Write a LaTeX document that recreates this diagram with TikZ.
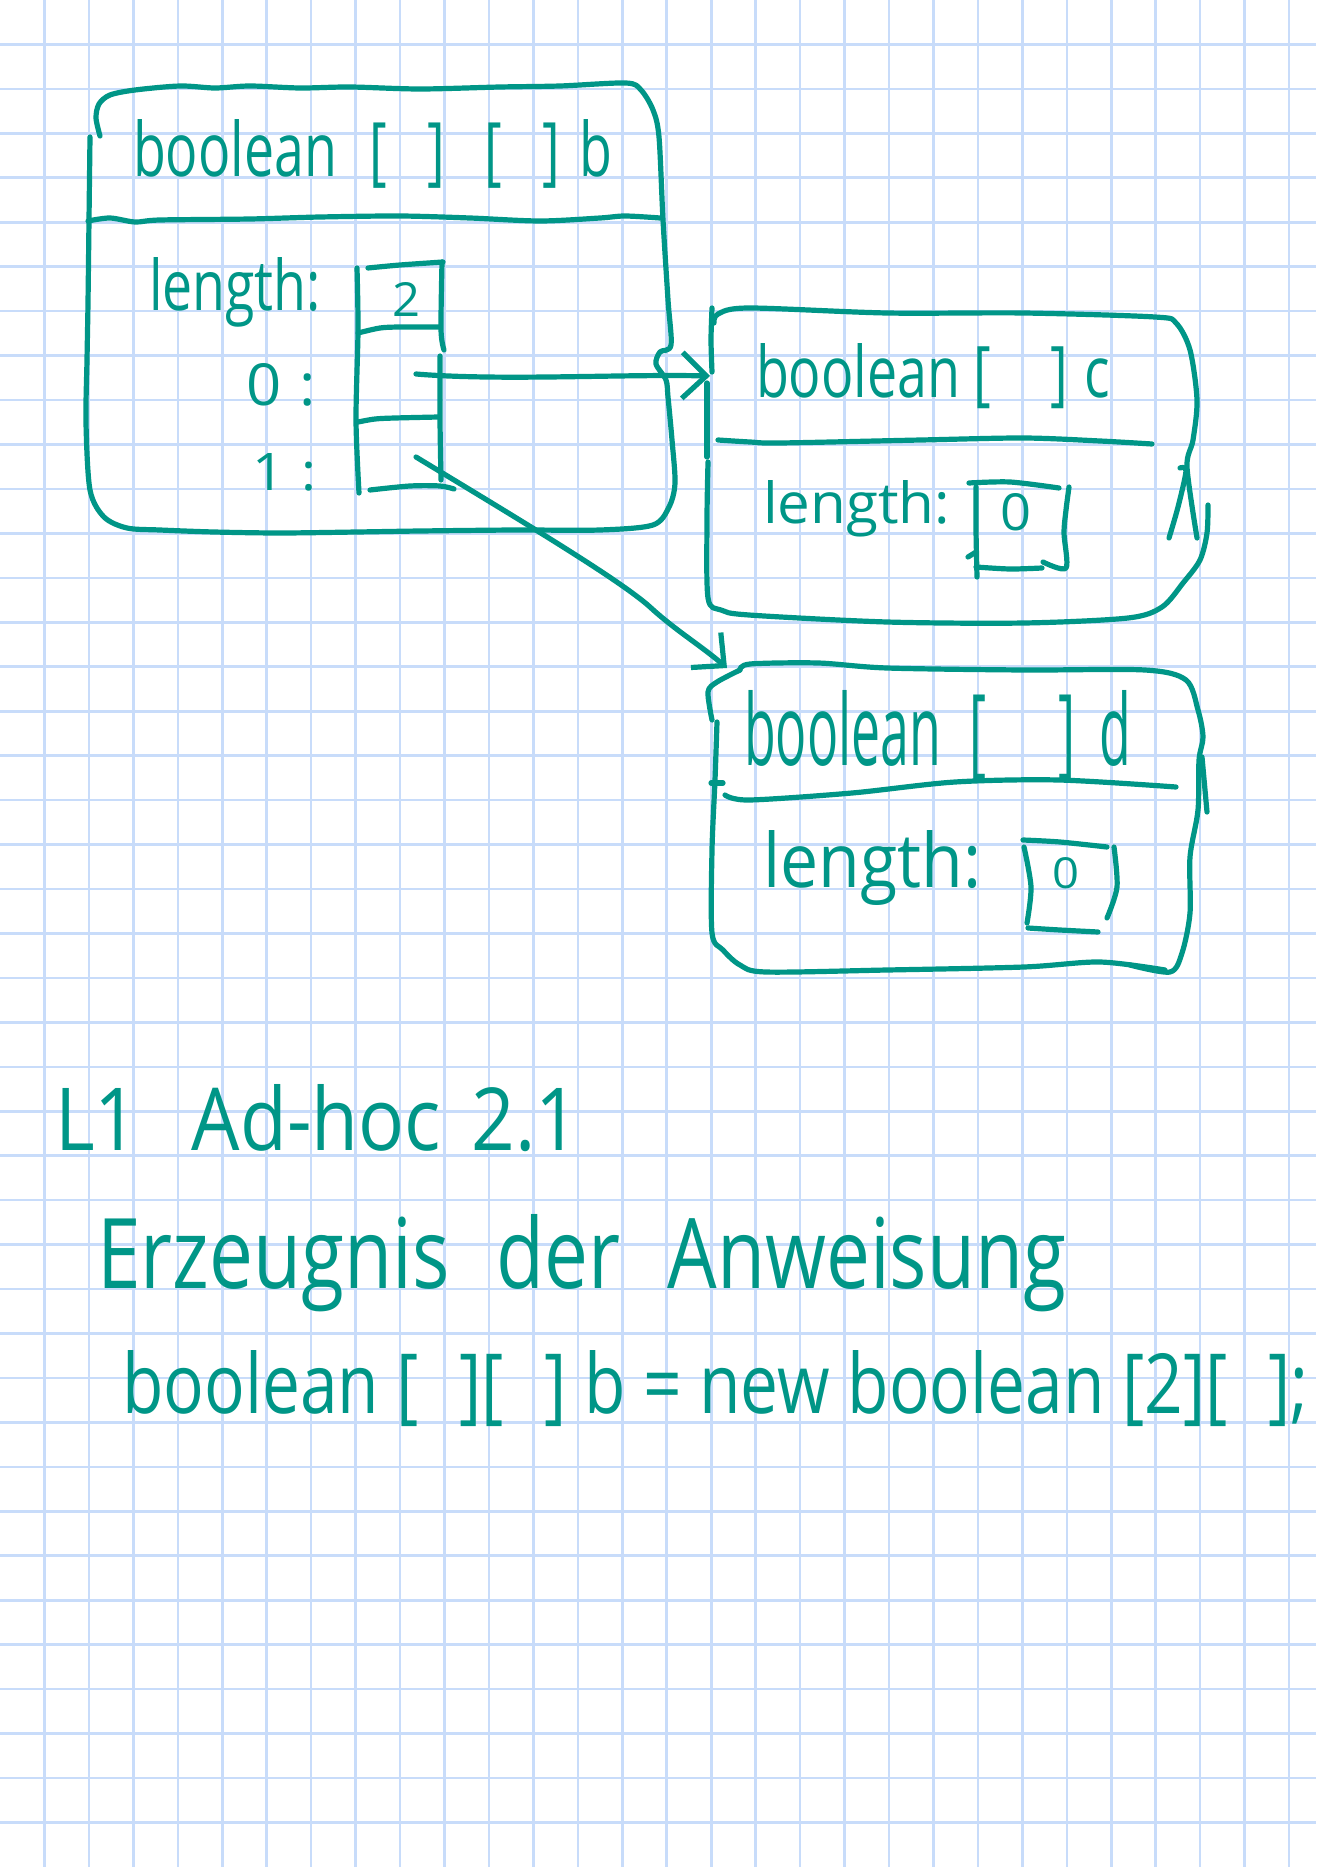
\documentclass[tikz,border=0pt]{standalone}
\usepackage{fontspec}
\setmainfont{Open Sans}
\usetikzlibrary{arrows.meta}
\definecolor{ink}{RGB}{0,150,135}
\definecolor{gridblue}{RGB}{200,220,250}
\newcommand{\hw}[3]{\resizebox{#1pt}{#2pt}{#3}}
\begin{document}
\begin{tikzpicture}[x=1pt,y=-1pt,
  pen/.style={draw=ink, line width=5.2pt, line cap=round, line join=round},
  txt/.style={text=ink, inner sep=0pt, outer sep=0pt, anchor=base west},
  barb/.style={-{Straight Barb[length=24pt,width=46pt]}}
]
\useasboundingbox (0,0) rectangle (1316,1867);
\fill[white] (0,0) rectangle (1316,1867);
\foreach \i in {1,...,29} \draw[gridblue, line width=2.6pt] (\i*44.45,0) -- (\i*44.45,1867);
\foreach \j in {1,...,41} \draw[gridblue, line width=2.6pt] (0,\j*44.45) -- (1316,\j*44.45);

% ---------------- box b ----------------
\draw[pen] plot[smooth, tension=0.5] coordinates {(100,136) (96,118) (99,104) (110,95) (135,90) (180,86) (215,88) (250,86) (300,88) (350,87) (420,89) (500,87) (560,86) (626,83) (641,90) (653,110) (659,137) (663,220) (668,300) (671,345) (660,352) (656,364) (666,380) (668,397) (672,440) (675,483) (669,507) (653,525) (600,530) (515,530) (420,531) (357,532) (280,533) (214,532) (160,530) (127,528) (104,517) (90,490) (86,423) (87,360) (88,303) (89,220) (90,137)};
\draw[pen] plot[smooth, tension=0.5] coordinates {(88,221) (110,218) (135,222) (160,220) (250,219) (320,217) (400,216) (470,218) (540,221) (600,218) (625,216) (660,218)};
% array cells
\draw[pen] plot[smooth, tension=0.5] coordinates {(357,268) (358,330) (356,420) (359,493)};
\draw[pen] plot[smooth, tension=0.5] coordinates {(368,268) (400,265) (443,262)};
\draw[pen] plot[smooth, tension=0.5] coordinates {(442,262) (441,330) (444,350)};
\draw[pen] plot[smooth, tension=0.5] coordinates {(440,356) (440,420) (441,480)};
\draw[pen] plot[smooth, tension=0.5] coordinates {(358,333) (380,328) (400,327) (439,327)};
\draw[pen] plot[smooth, tension=0.5] coordinates {(358,422) (375,419) (395,418) (439,417)};
\draw[pen] plot[smooth, tension=0.5] coordinates {(370,490) (410,486) (440,486) (454,489)};

\node[txt] (tb) at (133,177) {\hw{479}{57}{boolean\hspace{0.6em}[\hspace{0.75em}]\hspace{0.75em}[\hspace{0.75em}]\hspace{0.35em}b}};
\node[txt] (lenb) at (149,310) {\hw{172}{53}{length:}};
\node[txt] (vb) at (392,317) {\hw{28}{34}{2}};
\node[txt] (i0) at (246,405) {\hw{70}{42}{0\hspace{0.3em}:}};
\node[txt] (i1) at (252,490) {\hw{64}{37}{1\hspace{0.3em}:}};

\coordinate (b0) at (416,374);
\coordinate (b1) at (416,457);

% ---------------- box c ----------------
\draw[pen] plot[smooth, tension=0.5] coordinates {(712,308) (711,340) (712,372)};
\draw[pen] plot[smooth, tension=0.5] coordinates {(707,383) (707,420) (707,457)};
\draw[pen] plot[smooth, tension=0.5] coordinates {(708,462) (707,520) (708,598) (721,610) (749,615) (887,622) (1024,623) (1128,618) (1162,607) (1183,583) (1200,560) (1207,533) (1208,505)};
\draw[pen] plot[smooth, tension=0.5] coordinates {(714,323) (718,314) (749,308) (887,313) (1024,313) (1155,317) (1176,323) (1190,350) (1197,400) (1193,440) (1187,467) (1197,538)};
\draw[pen] plot[smooth, tension=0.5] coordinates {(1180,468) (1186,471) (1178,507) (1169,538)};
\draw[pen] plot[smooth, tension=0.5] coordinates {(718,440) (750,442) (780,443) (921,440) (1024,438) (1100,441) (1152,444)};
% value cell
\draw[pen] plot[smooth, tension=0.5] coordinates {(969,483) (1010,482) (1059,488)};
\draw[pen] plot[smooth, tension=0.5] coordinates {(976,487) (976,530) (977,577)};
\draw[pen] (968,557) -- (976,552);
\draw[pen] plot[smooth, tension=0.5] coordinates {(976,567) (1010,569) (1042,568)};
\draw[pen] plot[smooth, tension=0.5] coordinates {(1069,487) (1066,510) (1064,533) (1066,568) (1043,562)};

\node[txt] (tc) at (756,397) {\hw{354}{54}{boolean\hspace{0.25em}[\hspace{1.1em}]\hspace{0.3em}c}};
\node[txt] (lenc) at (763,523) {\hw{187}{43}{length:}};
\node[txt] (vc) at (1000,530) {\hw{31}{37}{0}};
\coordinate (cin) at (710,376);

% ---------------- box d ----------------
\draw[pen] plot[smooth, tension=0.5] coordinates {(740,670) (750,664) (818,663) (887,668) (1024,670) (1145,670) (1186,680) (1198,710) (1203,737) (1199,760) (1198,810) (1190,857) (1190,913) (1182,953) (1170,972) (1130,965)};
\draw[pen] plot[smooth, tension=0.5] coordinates {(1165,970) (1100,962) (1024,967) (887,970) (766,972) (740,965) (723,950) (712,933) (712,850) (715,780) (717,722)};
\draw[pen] plot[smooth, tension=0.5] coordinates {(740,670) (717,682) (708,692) (712,720)};
\draw[pen] (711,783) -- (723,783);
\draw[pen] (1202,757) -- (1207,812);
\draw[pen] plot[smooth, tension=0.5] coordinates {(725,795) (749,800) (852,793) (955,782) (1059,780) (1176,787)};
% value cell
\draw[pen] plot[smooth, tension=0.5] coordinates {(1023,840) (1060,842) (1107,847)};
\draw[pen] plot[smooth, tension=0.5] coordinates {(1024,847) (1031,887) (1027,923)};
\draw[pen] plot[smooth, tension=0.5] coordinates {(1028,928) (1060,930) (1098,932)};
\draw[pen] plot[smooth, tension=0.5] coordinates {(1114,847) (1117,887) (1107,918)};

\node[txt] (td) at (744,765) {\hw{387}{75}{boolean\hspace{0.55em}[\hspace{1.4em}]\hspace{0.45em}d}};
\node[txt] (lend) at (763,887) {\hw{218}{57}{length:}};
\node[txt] (vd) at (1052,888) {\hw{27}{31}{0}};
\coordinate (din) at (727,668);

% ---------------- references ----------------
\draw[pen, barb] (b0) .. controls (500,381) and (620,374) .. (cin);
\draw[pen, barb] (b1) .. controls (520,520) and (620,580) .. (650,607) .. controls (675,630) and (700,645) .. (din);

% ---------------- notes ----------------
\node[txt] (n1) at (55,1150) {\hw{524}{66}{L1\hspace{0.7em}Ad-hoc\hspace{0.4em}2.1}};
\node[txt] (n2) at (97,1288) {\hw{969}{74}{Erzeugnis\hspace{0.6em}der\hspace{0.6em}Anweisung}};
\node[txt] (n3) at (122,1413) {\hw{1186}{63}{boolean [\hspace{0.6em}][\hspace{0.6em}] b = new boolean [2][\hspace{0.6em}];}};
\end{tikzpicture}
\end{document}
